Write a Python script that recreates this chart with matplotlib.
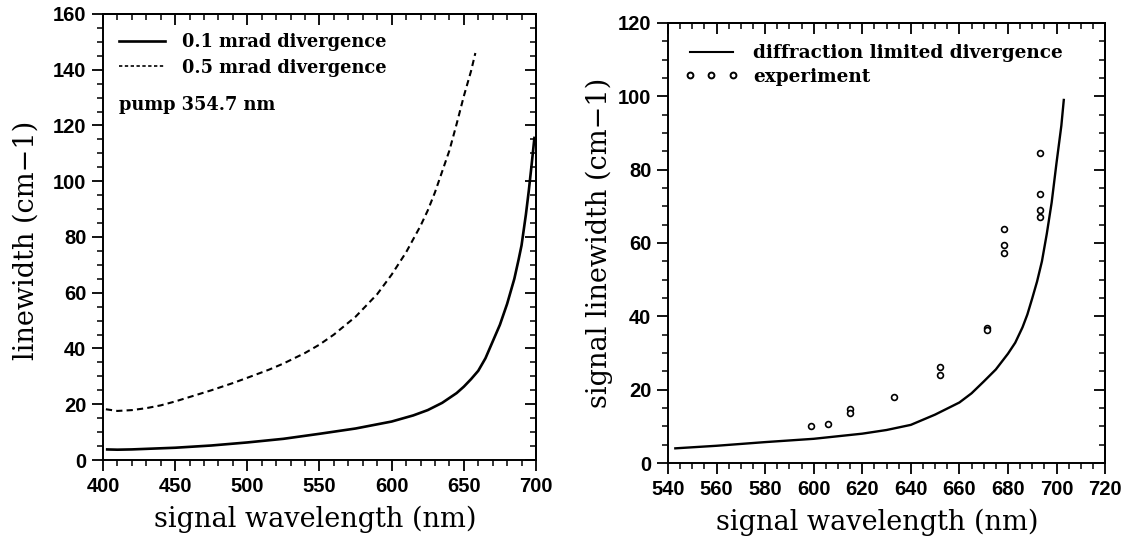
import matplotlib
matplotlib.use("Agg")
import matplotlib.pyplot as plt
from matplotlib.ticker import MultipleLocator
from matplotlib.lines import Line2D

# ---------------- data ----------------
left_solid_x = [402, 410, 420, 430, 450, 475, 500, 525, 550, 575, 600, 615, 625,
                635, 645, 650, 655, 660, 665, 670, 675, 680, 685, 688, 690, 693, 695, 697, 699]
left_solid_y = [3.8, 3.7, 3.8, 4.0, 4.4, 5.2, 6.3, 7.6, 9.4, 11.3, 13.8, 16.0, 17.9,
                20.5, 24.0, 26.3, 29.0, 32.0, 36.5, 42.5, 48.5, 56.0, 65.0, 72.0, 77.0, 88.0, 96.5, 106.0, 116.0]

left_dash_x = [402, 410, 420, 430, 440, 450, 460, 475, 490, 500, 515, 525, 540, 550,
               560, 575, 590, 600, 610, 620, 625, 630, 640, 645, 650, 655, 658]
left_dash_y = [18.2, 17.6, 17.9, 18.6, 19.6, 21.0, 22.6, 25.0, 27.6, 29.5, 32.4, 34.6, 38.4, 41.4,
               45.0, 51.4, 59.5, 66.5, 74.5, 84.0, 89.5, 96.0, 111.0, 120.5, 130.5, 139.5, 146.0]

right_curve_x = [543, 560, 580, 600, 620, 630, 640, 650, 660, 665, 670, 675, 680,
                 683, 686, 688, 690, 692, 694, 696, 698, 700, 702, 703]
right_curve_y = [4.0, 4.7, 5.7, 6.6, 8.0, 9.0, 10.4, 13.2, 16.5, 19.0, 22.2, 25.5, 29.8,
                 32.8, 37.0, 40.5, 44.9, 49.5, 55.0, 62.5, 71.0, 81.8, 92.0, 99.0]

exp_x = [599, 606, 615, 615, 633, 652, 652, 671.5, 671.5, 678.5, 678.5, 678.5, 693, 693, 693, 693]
exp_y = [10.1, 10.7, 14.8, 13.7, 18.0, 26.3, 24.1, 36.9, 36.2, 63.8, 59.5, 57.4, 84.6, 73.3, 69.0, 67.1]

left_xticks = [400, 450, 500, 550, 600, 650, 700]
left_yticks = [0, 20, 40, 60, 80, 100, 120, 140, 160]
right_xticks = [540, 560, 580, 600, 620, 640, 660, 680, 700, 720]
right_yticks = [0, 20, 40, 60, 80, 100, 120]

legend_left = ["0.1 mrad divergence", "0.5 mrad divergence"]
legend_right = ["diffraction limited divergence", "experiment"]
pump_text = "pump 354.7 nm"
xlabel = "signal wavelength (nm)"
ylabel_left = "linewidth (cm\u22121)"
ylabel_right = "signal linewidth (cm\u22121)"

# ---------------- style ----------------
TICKFONT = dict(family="Liberation Sans", weight="bold", size=14.5)
LABELFONT = dict(family="DejaVu Serif", size=19.5)
LEGFONT_L = dict(family="DejaVu Serif", weight="bold", size=12.8)
LEGFONT_R = dict(family="DejaVu Serif", weight="bold", size=13.3)
SPINE_LW = 1.4

fig = plt.figure(figsize=(11.22, 5.46), dpi=100)
ax1 = fig.add_axes([0.0918, 0.1575, 0.3859, 0.8169])
ax2 = fig.add_axes([0.5954, 0.1520, 0.3895, 0.8060])


def style_axes(ax, xmin, ymin, xticks, yticks):
    for s in ax.spines.values():
        s.set_linewidth(SPINE_LW)
    ax.set_xticks(xticks)
    ax.set_yticks(yticks)
    ax.xaxis.set_minor_locator(MultipleLocator(xmin))
    ax.yaxis.set_minor_locator(MultipleLocator(ymin))
    ax.tick_params(which="major", direction="out", length=8, width=1.3, pad=4)
    ax.tick_params(which="minor", direction="out", length=4, width=1.1)
    fp = matplotlib.font_manager.FontProperties(**TICKFONT)
    for lab in ax.get_xticklabels() + ax.get_yticklabels():
        lab.set_fontproperties(fp)
    # top / right ticks pointing inward
    top = ax.secondary_xaxis("top")
    top.set_xticks(xticks)
    top.xaxis.set_minor_locator(MultipleLocator(xmin))
    top.tick_params(which="major", direction="in", length=8, width=1.3, labeltop=False)
    top.tick_params(which="minor", direction="in", length=4, width=1.1)
    top.spines["top"].set_linewidth(SPINE_LW)
    right = ax.secondary_yaxis("right")
    right.set_yticks(yticks)
    right.yaxis.set_minor_locator(MultipleLocator(ymin))
    right.tick_params(which="major", direction="in", length=8, width=1.3, labelright=False)
    right.tick_params(which="minor", direction="in", length=4, width=1.1)
    right.spines["right"].set_linewidth(SPINE_LW)


# ---------------- left panel ----------------
ax1.plot(left_solid_x, left_solid_y, color="black", lw=1.9, solid_capstyle="butt")
ax1.plot(left_dash_x, left_dash_y, color="black", lw=1.5, dashes=(3, 2))
ax1.set_xlim(400, 700)
ax1.set_ylim(0, 160)
style_axes(ax1, 10, 5, left_xticks, left_yticks)

h1 = [Line2D([], [], color="black", lw=1.9),
      Line2D([], [], color="black", lw=1.2, dashes=(2, 1.5))]
ax1.legend(h1, legend_left, loc="upper left", bbox_to_anchor=(0.037, 0.957),
           frameon=False, borderpad=0, borderaxespad=0, handlelength=2.6,
           handletextpad=0.95, labelspacing=0.42, prop=LEGFONT_L)
ax1.text(0.037, 0.796, pump_text, transform=ax1.transAxes, ha="left", va="center", **LEGFONT_L)

ax1.set_xlabel(xlabel, va="center", **LABELFONT)
ax1.xaxis.set_label_coords(0.49, -0.134)
ax1.set_ylabel(ylabel_left, va="center", **LABELFONT)
ax1.yaxis.set_label_coords(-0.178, 0.493)

# ---------------- right panel ----------------
ax2.plot(right_curve_x, right_curve_y, color="black", lw=1.7)
ax2.plot(exp_x, exp_y, linestyle="none", marker="o", markersize=4.2,
         markerfacecolor="white", markeredgecolor="black", markeredgewidth=1.2)
ax2.set_xlim(540, 720)
ax2.set_ylim(0, 120)
style_axes(ax2, 5, 5, right_xticks, right_yticks)

h2 = [Line2D([], [], color="black", lw=1.5),
      Line2D([], [], linestyle="none", marker="o", markersize=4.2,
             markerfacecolor="white", markeredgecolor="black", markeredgewidth=1.4)]
ax2.legend(h2, legend_right, loc="upper left", bbox_to_anchor=(0.038, 0.952),
           frameon=False, borderpad=0, borderaxespad=0, handlelength=2.9,
           handletextpad=0.8, labelspacing=0.3, numpoints=3, prop=LEGFONT_R)

ax2.set_xlabel(xlabel, va="center", **LABELFONT)
ax2.xaxis.set_label_coords(0.478, -0.134)
ax2.set_ylabel(ylabel_right, va="center", **LABELFONT)
ax2.yaxis.set_label_coords(-0.158, 0.5)

fig.savefig("out.png", dpi=100)
